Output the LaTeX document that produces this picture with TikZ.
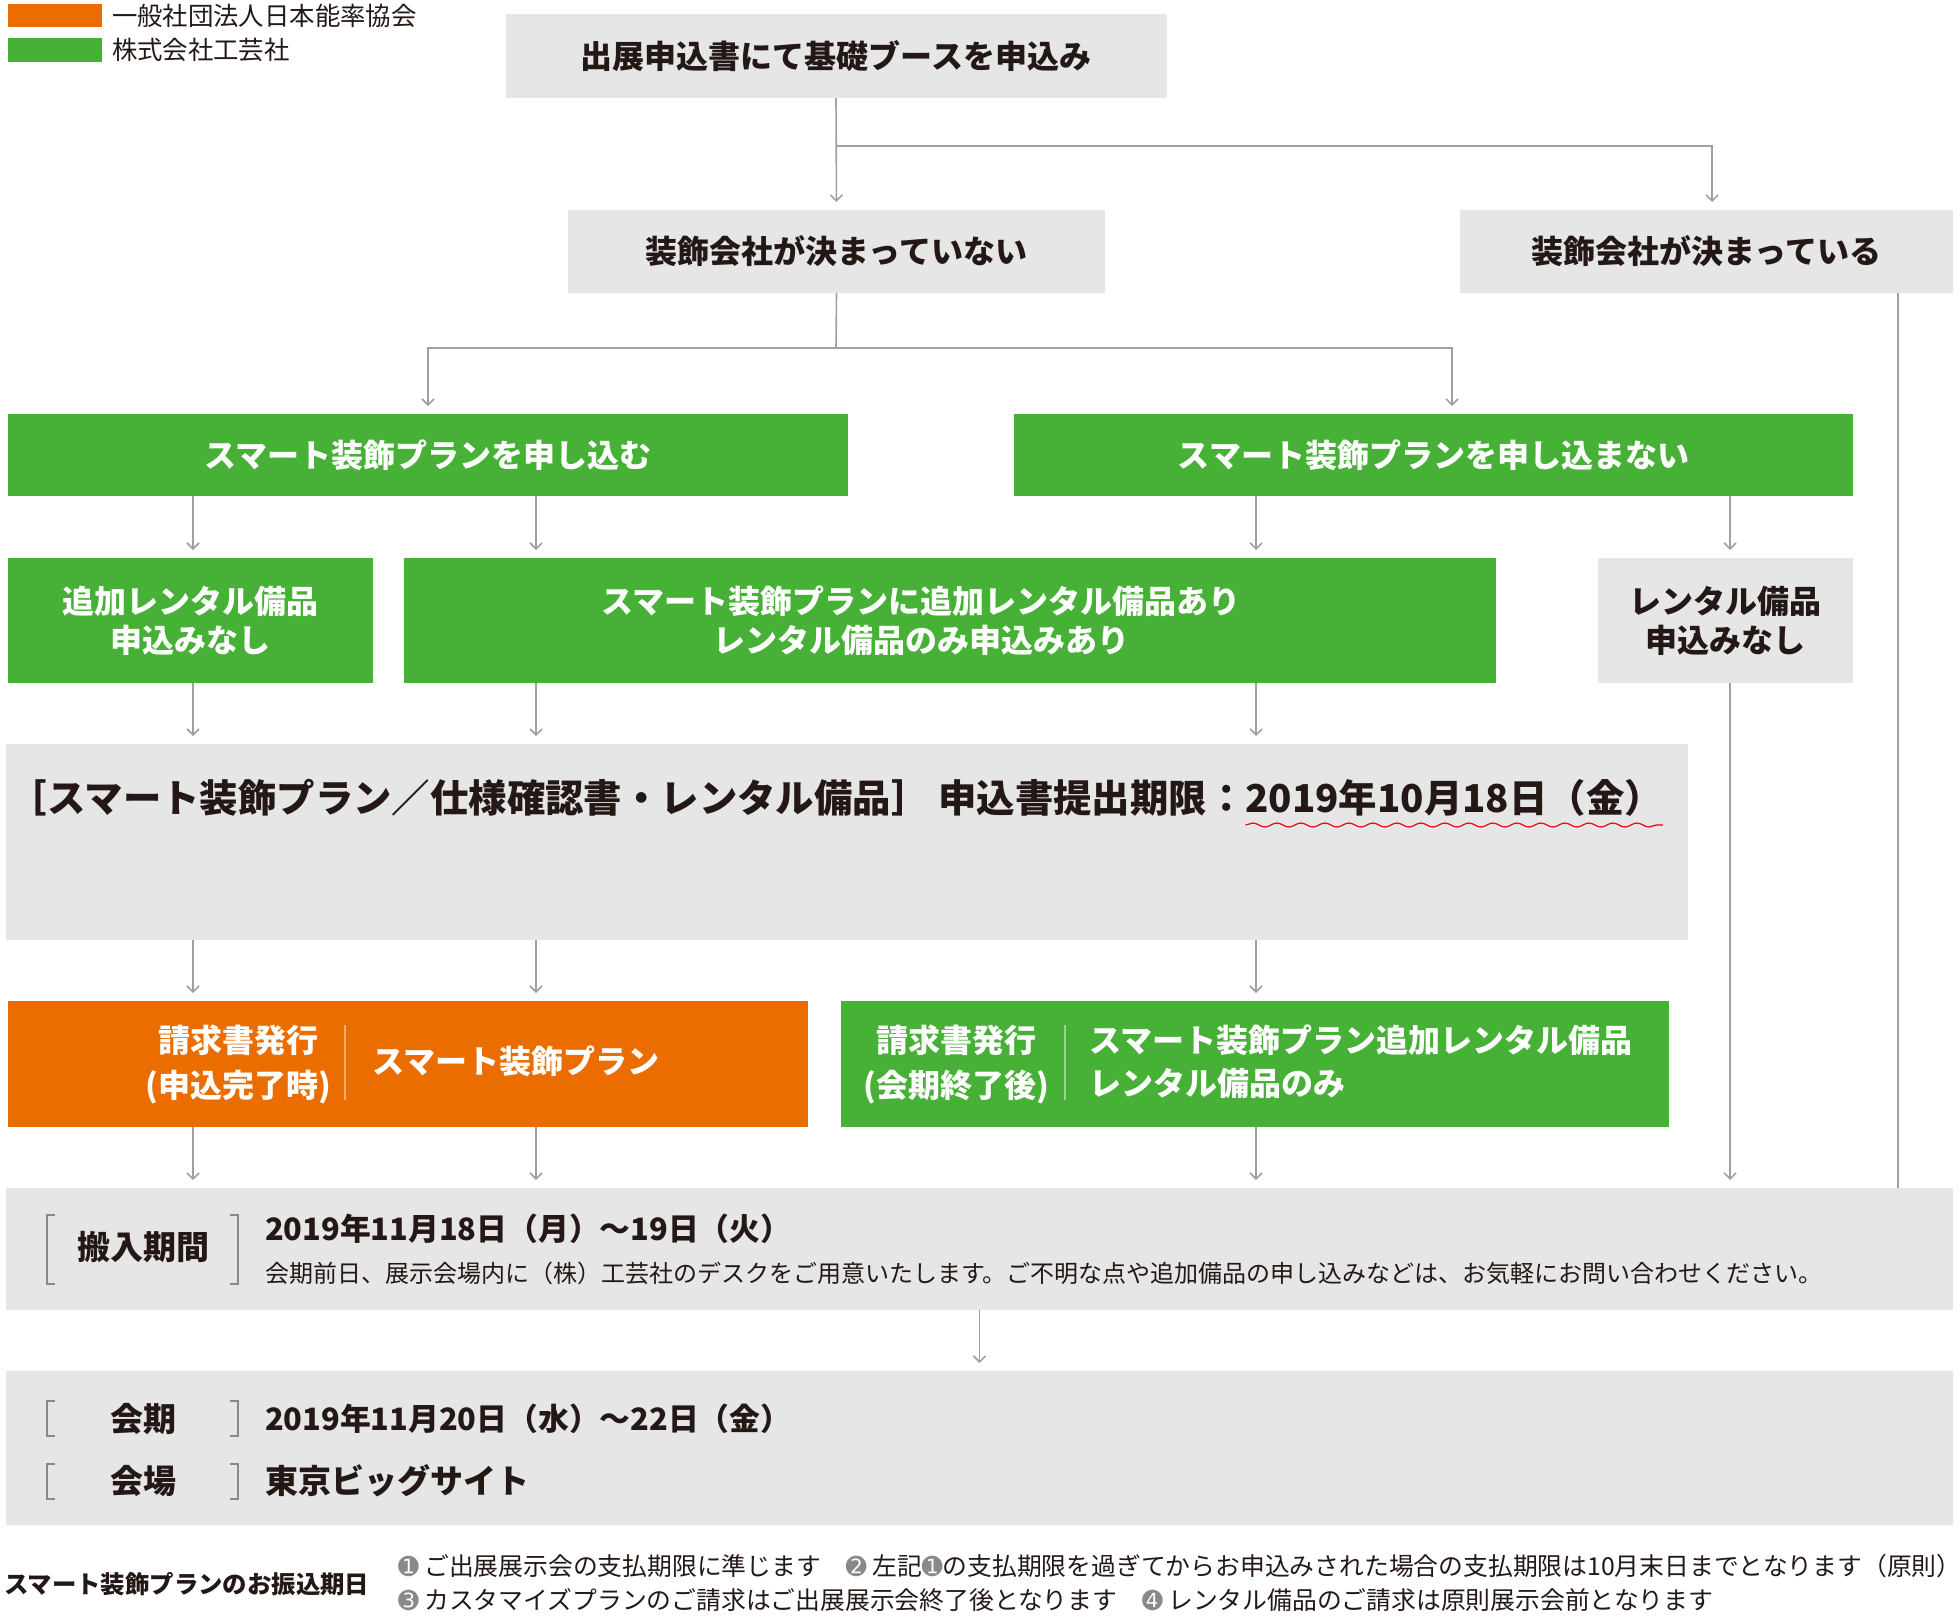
\documentclass[tikz,border=0pt]{standalone}
\usepackage{fontspec}
\usetikzlibrary{arrows.meta,decorations.pathmorphing}
\setmainfont{Noto Sans CJK JP}
\newfontfamily\djv{DejaVu Sans}
\definecolor{jorange}{HTML}{EB6D00}
\definecolor{jgreen}{HTML}{47B036}
\definecolor{jgray}{HTML}{E6E6E6}
\definecolor{jtext}{HTML}{231815}
\definecolor{jline}{HTML}{9FA0A0}
\definecolor{jred}{HTML}{E60012}
\definecolor{numgray}{HTML}{898989}
\newcommand\cn[1]{{\djv\color{numgray}#1}}
\tikzset{
  box/.style={inner sep=0pt, outer sep=0pt, align=center, font=\bfseries\fontsize{16}{19.5}\selectfont},
  graybox/.style={box, fill=jgray, text=jtext},
  greenbox/.style={box, fill=jgreen, text=white},
  orangebox/.style={box, fill=jorange, text=white},
  sz/.style 2 args={minimum width=#1*0.5pt, minimum height=#2*0.5pt},
  link/.style={draw=jline, line width=0.8pt},
  arr/.style={link, -{Straight Barb[length=3pt,width=6pt]}, shorten >=4pt},
  lbl/.style={inner sep=0pt, outer sep=0pt, anchor=west, text=jtext},
  wlbl/.style={inner sep=0pt, outer sep=0pt, text=white},
  bfbig/.style={font=\bfseries\fontsize{16.5}{20}\selectfont},
  bfdate/.style={font=\bfseries\fontsize{15.4}{19}\selectfont},
  brk/.style={draw=numgray, line width=0.7pt},
  legend/.style={inner sep=0pt, outer sep=0pt, anchor=west, text=jtext, font=\fontsize{12.7}{15}\selectfont},
  note/.style={lbl, font=\fontsize{12.4}{14}\selectfont},
}
\begin{document}
\begin{tikzpicture}[x=0.5pt,y=-0.5pt]
\useasboundingbox (0,0) rectangle (1960,1618);
% legend
\node[fill=jorange, sz={94}{23}, inner sep=0pt, anchor=north west] (lgo) at (8,4) {};
\node[fill=jgreen, sz={94}{24}, inner sep=0pt, anchor=north west] (lgg) at (8,38) {};
\node[legend] (lgot) at (112,16) {一般社団法人日本能率協会};
\node[legend] (lggt) at (112,50) {株式会社工芸社};
% boxes
\node[graybox, sz={661}{84}] (b1) at (836,56) {出展申込書にて基礎ブースを申込み};
\node[graybox, sz={537}{83}] (b2) at (836.5,251.5) {装飾会社が決まっていない};
\node[graybox, sz={493}{83}] (b3) at (1706.5,251.5) {装飾会社が決まっている};
\node[greenbox, sz={840}{82}] (b4) at (428,455) {スマート装飾プランを申し込む};
\node[greenbox, sz={839}{82}] (b5) at (1433.5,455) {スマート装飾プランを申し込まない};
\node[greenbox, sz={365}{125}] (b6) at (190.5,620.5) {追加レンタル備品\\申込みなし};
\node[greenbox, sz={1092}{125}] (b7) at (950,620.5) {};
\node[wlbl, align=center, font=\bfseries\fontsize{16}{19.5}\selectfont] (b7t) at (921,620.5) {スマート装飾プランに追加レンタル備品あり\\レンタル備品のみ申込みあり};
\node[graybox, sz={255}{125}] (b8) at (1725.5,620.5) {レンタル備品\\申込みなし};
\node[graybox, sz={1682}{196}] (b9) at (847,842) {};
\node[orangebox, sz={800}{126}] (b10) at (408,1064) {};
\node[greenbox, sz={828}{126}] (b11) at (1255,1064) {};
\node[graybox, sz={1947}{122}] (b12) at (979.5,1249) {};
\node[graybox, sz={1947}{154}] (b13) at (979.5,1448) {};
% deadline
\node[lbl, font=\bfseries\fontsize{19.2}{22}\selectfont] (b9t) at (9,798) {［スマート装飾プラン／仕様確認書・レンタル備品］ 申込書提出期限：};
\node[lbl, anchor=base west, font=\bfseries\fontsize{19.2}{22}\selectfont] (b9d) at (b9t.base east) {2019年10月18日（金）};
\draw[jred, line width=0.6pt, decorate, decoration={snake, amplitude=1pt, segment length=12pt}] (b9d.west |- 0,825) -- (b9d.east |- 0,825);
% invoices
\node[wlbl, align=center, font=\bfseries\fontsize{16}{22.5}\selectfont] (b10a) at (238,1064) {請求書発行\\(申込完了時)};
\draw[draw=jorange!55!white, line width=0.6pt] (345,1025) -- (345,1100);
\node[wlbl, anchor=west, font=\bfseries\fontsize{16}{19.5}\selectfont] (b10b) at (372,1061) {スマート装飾プラン};
\node[wlbl, align=center, font=\bfseries\fontsize{16}{22.5}\selectfont] (b11a) at (956,1064) {請求書発行\\(会期終了後)};
\draw[draw=jgreen!55!white, line width=0.6pt] (1065,1025) -- (1065,1100);
\node[wlbl, anchor=west, align=left, font=\bfseries\fontsize{16}{21.5}\selectfont] (b11b) at (1089,1062) {スマート装飾プラン追加レンタル備品\\レンタル備品のみ};
% move-in
\draw[brk] (55,1215) -- (47,1215) -- (47,1284) -- (55,1284);
\draw[brk] (230,1215) -- (238,1215) -- (238,1284) -- (230,1284);
\node[lbl, anchor=center, bfbig] (b12a) at (143,1247) {搬入期間};
\node[lbl, bfdate] (b12b) at (265,1229) {2019年11月18日（月）～19日（火）};
\node[lbl, font=\fontsize{12}{14}\selectfont] (b12c) at (265,1273) {会期前日、展示会場内に（株）工芸社のデスクをご用意いたします。ご不明な点や追加備品の申し込みなどは、お気軽にお問い合わせください。};
% dates
\draw[brk] (55,1401) -- (47,1401) -- (47,1436) -- (55,1436);
\draw[brk] (230,1401) -- (238,1401) -- (238,1436) -- (230,1436);
\draw[brk] (55,1464) -- (47,1464) -- (47,1499) -- (55,1499);
\draw[brk] (230,1464) -- (238,1464) -- (238,1499) -- (230,1499);
\node[lbl, anchor=center, bfbig] (b13a) at (143,1419) {会期};
\node[lbl, anchor=center, bfbig] (b13b) at (143,1481) {会場};
\node[lbl, bfdate] (b13c) at (265,1419) {2019年11月20日（水）～22日（金）};
\node[lbl, bfbig] (b13d) at (265,1481) {東京ビッグサイト};
% footer
\node[lbl, font=\bfseries\fontsize{12.2}{14}\selectfont] (f1) at (4,1584) {スマート装飾プランのお振込期日};
\node[note] (f2) at (398,1566) {\cn{➊} ご出展展示会の支払期限に準じます\quad\cn{➋} 左記\cn{➊}の支払期限を過ぎてからお申込みされた場合の支払期限は10月末日までとなります（原則）};
\node[note] (f3) at (398,1600) {\cn{➌} カスタマイズプランのご請求はご出展展示会終了後となります\quad\cn{➍} レンタル備品のご請求は原則展示会前となります};
% connectors
\coordinate (j1) at (836,146);
\coordinate (j1r) at (1712,146);
\coordinate (j2) at (836,348);
\coordinate (j2l) at (428,348);
\coordinate (j2r) at (1452,348);
\coordinate (colA) at (193,0);
\coordinate (colB) at (536,0);
\coordinate (colC) at (1256,0);
\coordinate (colD) at (1730,0);
\coordinate (colE) at (1898,0);
\draw[arr] (b1.south) -- (b2.north);
\draw[arr] (j1) -- (j1r) -- (b3.north -| j1r);
\draw[link] (b2.south) -- (j2);
\draw[arr] (j2) -- (j2l) -- (b4.north -| j2l);
\draw[arr] (j2) -- (j2r) -- (b5.north -| j2r);
\draw[arr] (b4.south -| colA) -- (b6.north -| colA);
\draw[arr] (b4.south -| colB) -- (b7.north -| colB);
\draw[arr] (b5.south -| colC) -- (b7.north -| colC);
\draw[arr] (b5.south -| colD) -- (b8.north -| colD);
\draw[arr] (b6.south -| colA) -- (b9.north -| colA);
\draw[arr] (b7.south -| colB) -- (b9.north -| colB);
\draw[arr] (b7.south -| colC) -- (b9.north -| colC);
\draw[arr] (b9.south -| colA) -- (b10.north -| colA);
\draw[arr] (b9.south -| colB) -- (b10.north -| colB);
\draw[arr] (b9.south -| colC) -- (b11.north -| colC);
\draw[arr] (b10.south -| colA) -- (b12.north -| colA);
\draw[arr] (b10.south -| colB) -- (b12.north -| colB);
\draw[arr] (b11.south -| colC) -- (b12.north -| colC);
\draw[arr] (b8.south -| colD) -- (b12.north -| colD);
\draw[link] (b3.south -| colE) -- (b12.north -| colE);
\draw[arr] (b12.south) -- (b13.north);
\end{tikzpicture}
\end{document}
